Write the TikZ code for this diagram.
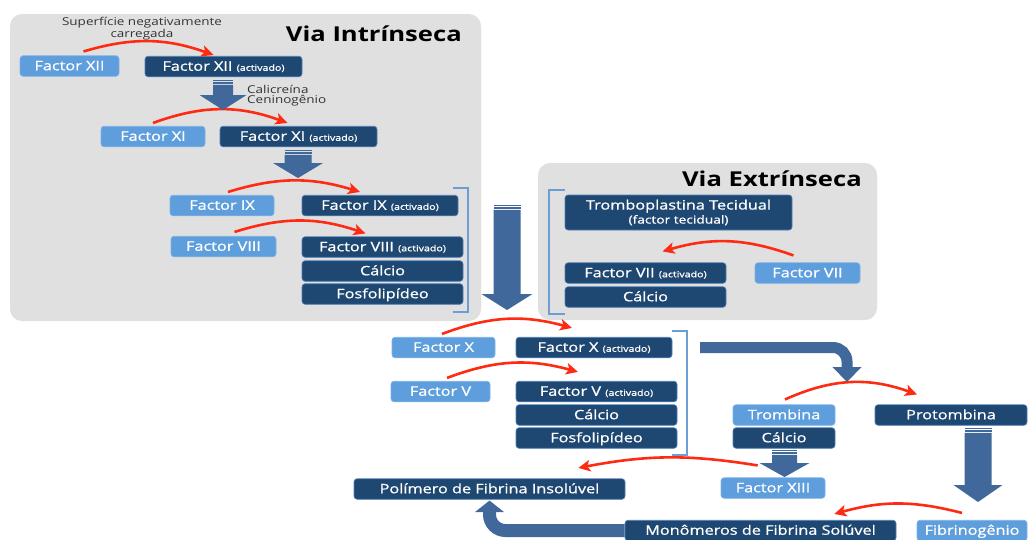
\documentclass[tikz,border=0pt]{standalone}
\usepackage{fontspec}
\setmainfont{Open Sans}[FakeStretch=1.25]
\newfontfamily\caixafont{Open Sans}[FakeStretch=1.25,FakeBold=0.9]
\usetikzlibrary{arrows.meta,calc,shadows}

\definecolor{painel}{HTML}{E0E0E0}
\definecolor{azulclaro}{HTML}{5F9EDC}
\definecolor{bordaclara}{HTML}{7DB1E6}
\definecolor{azulescuro}{HTML}{1E4872}
\definecolor{bordaescura}{HTML}{4F7FB8}
\definecolor{azulseta}{HTML}{40689A}
\definecolor{vermelho}{HTML}{FF2A12}
\definecolor{azulchave}{HTML}{6C9ED6}
\definecolor{cinzatexto}{HTML}{333333}

\newcommand{\activado}{{\fontsize{8.5}{9}\selectfont(activado)}}

\begin{document}
\begin{tikzpicture}[x=1pt,y=-1pt,>={Stealth[length=12pt,width=11.5pt,inset=3pt]},
	via/.style={fill=painel,rounded corners=12pt,drop shadow={opacity=0.25,shadow xshift=0pt,shadow yshift=-2pt}},
	titulo/.style={font=\bfseries\fontsize{20.5}{24}\selectfont,text=black,inner sep=0pt},
	rotulo/.style={font=\fontsize{10.8}{10.5}\selectfont,text=cinzatexto,inner sep=0pt},
	caixa/.style={rounded corners=3pt,inner sep=0pt,text=white,line width=0.6pt,font=\caixafont\fontsize{13}{14}\selectfont,minimum height=20.5pt},
	uma/.style={text height=9pt,text depth=0.5pt},
	claro/.style={caixa,uma,fill=azulclaro,draw=bordaclara},
	escuro/.style={caixa,uma,fill=azulescuro,draw=bordaescura},
	seta/.style={->,draw=vermelho,line width=2.6pt},
	bloco/.style={fill=azulseta},
	chave/.style={draw=azulchave,line width=1.6pt}]

\useasboundingbox (0,0) rectangle (1028,539);

% paineis
\path[via] (10,14) rectangle (481,319);
\path[via] (538,163) rectangle (877,318);

\node[titulo,anchor=base east] (intr) at (462,41) {Via Intrínseca};
\node[titulo,anchor=base east] (extr) at (862,186) {Via Extrínseca};

% via intrinseca
\node[rotulo,align=center] (sup) at (142,28.5) {Superfície negativamente\\carregada};
\node[claro,minimum width=99pt] (f12) at (69.5,66) {Factor XII};
\node[escuro,minimum width=157pt] (f12a) at (223.5,66.5) {Factor XII \activado};
\node[rotulo,align=left,anchor=west] (cal) at (247,95.5) {Calicreína\\Ceninogênio};
\node[claro,minimum width=104pt] (f11) at (153,136.5) {Factor XI};
\node[escuro,minimum width=157pt] (f11a) at (298.5,136.5) {Factor XI \activado};
\node[claro,minimum width=104pt] (f9) at (222,205.5) {Factor IX};
\node[escuro,minimum width=156pt] (f9a) at (380,205.5) {Factor IX \activado};
\node[claro,minimum width=105pt] (f8) at (223.5,246.5) {Factor VIII};
\node[escuro,minimum width=161pt] (f8a) at (382.5,247) {Factor VIII \activado};
\node[escuro,minimum width=161pt] (ca1) at (382.5,271) {Cálcio};
\node[escuro,minimum width=161pt] (fos1) at (382.5,294) {Fosfolipídeo};

% via extrinseca
\node[caixa,fill=azulescuro,draw=bordaescura,align=center,minimum width=227pt,minimum height=35pt] (tromb) at (678.5,212.5)
	{Tromboplastina Tecidual\\{\fontsize{11}{12}\selectfont(factor tecidual)}};
\node[escuro,minimum width=161pt] (f7a) at (645.5,273) {Factor VII \activado};
\node[escuro,minimum width=161pt] (ca2) at (645.5,297) {Cálcio};
\node[claro,minimum width=105pt] (f7) at (807.5,273) {Factor VII};

% via comum
\node[claro,minimum width=103pt] (f10) at (443.5,347.5) {Factor X};
\node[escuro,minimum width=156pt] (f10a) at (594,347.5) {Factor X \activado};
\node[claro,minimum width=99pt] (f5) at (440.5,391.5) {Factor V};
\node[escuro,minimum width=161pt] (f5a) at (596.5,391.5) {Factor V \activado};
\node[escuro,minimum width=161pt] (ca3) at (596.5,415) {Cálcio};
\node[escuro,minimum width=161pt] (fos2) at (596.5,438) {Fosfolipídeo};
\node[claro,minimum width=102pt] (trb) at (784,415) {Trombina};
\node[escuro,minimum width=102pt] (ca4) at (784,438) {Cálcio};
\node[escuro,minimum width=152pt] (prot) at (951,415) {Protombina};
\node[claro,minimum width=104pt] (f13) at (773,488) {Factor XIII};
\node[escuro,minimum width=271pt] (poly) at (489.5,489) {Polímero de Fibrina Insolúvel};
\node[escuro,minimum width=271pt] (mono) at (760.5,530.5) {Monômeros de Fibrina Solúvel};
\node[claro,minimum width=110pt] (fibg) at (972,530.5) {Fibrinogênio};

% setas vermelhas
\draw[seta] ([shift={(14,-4)}]f12.north) to[bend left=18] ([shift={(-10,-1)}]f12a.north);
\draw[seta] ([shift={(0,-3)}]f11.north) to[bend left=20] ([shift={(-11,-3)}]f11a.north);
\draw[seta] ([shift={(6,-3)}]f9.north) to[bend left=17] ([shift={(-20,-3)}]f9a.north);
\draw[seta] ([shift={(11,-4)}]f8.north) to[bend left=18] ([shift={(-17,-3)}]f8a.north);
\draw[seta] ([shift={(-14,-7)}]f7.north) to[bend right=18] ([shift={(17,-11)}]f7a.north);
\draw[seta] ([shift={(-1.5,-3)}]f10.north) to[bend left=18] ([shift={(-22,-9)}]f10a.north);
\draw[seta] ([shift={(6.5,-3)}]f5.north) to[bend left=18] ([shift={(-18.5,-9)}]f5a.north);
\draw[seta] ([shift={(1,-5)}]trb.north) to[bend left=22] ([shift={(-34,-10)}]prot.north);
\draw[seta] ([shift={(37,-12)}]f13.north west) to[bend right=10] ([shift={(-47,-10.5)}]poly.north east);
\draw[seta] ([shift={(-10,-7)}]fibg.north) to[bend right=15] ([shift={(-62,-6)}]mono.north east);

% setas largas
\foreach \xc/\yt/\yh/\yb/\sw/\hw in {223/80/95/110/10/23.5,298/150/163/178/13.5/25,507/205/294/310/13.5/25.5,784.5/450/463/477/12.5/25,978/428/485/502/13.5/24.5}{
	\fill[bloco] (\xc-\sw,\yt) rectangle (\xc+\sw,\yt+1.2);
	\fill[bloco] (\xc-\sw,\yt+2.4) rectangle (\xc+\sw,\yt+3.6);
	\fill[bloco] (\xc-\sw,\yt+4.8) -- (\xc+\sw,\yt+4.8) -- (\xc+\sw,\yh) -- (\xc+\hw,\yh)
		-- (\xc,\yb) -- (\xc-\hw,\yh) -- (\xc-\sw,\yh) -- cycle;
}

\coordinate (saida) at (700,347.5);
\draw[azulseta,line width=11pt,rounded corners=14pt] (saida) -| (847,368);
\fill[bloco] (832.5,367) -- (861.5,367) -- (847,382) -- cycle;

\draw[azulseta,line width=13pt,rounded corners=16pt] (mono.west) -| ([yshift=-12pt]poly.south);
\fill[bloco] ([shift={(-14.5,12.5)}]poly.south) -- ([shift={(14.5,12.5)}]poly.south) -- ([yshift=-1pt]poly.south) -- cycle;

% chaves
\draw[chave] (453,188) -- (468,188) -- (468,312) -- (453,312);
\draw[chave] (565,190) -- (549,190) -- (549,314) -- (565,314);
\draw[chave] (672,331) -- (687,331) -- (687,455) -- (672,455);

\end{tikzpicture}
\end{document}
